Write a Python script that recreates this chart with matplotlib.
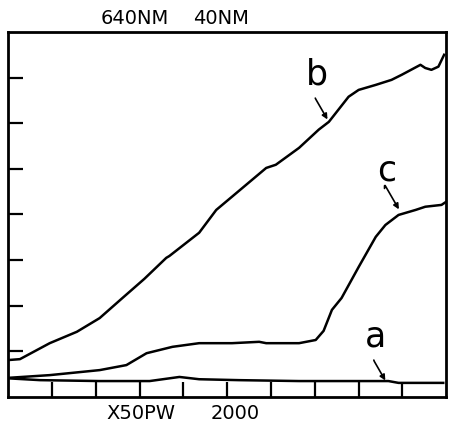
import matplotlib
matplotlib.use("Agg")
import matplotlib.pyplot as plt

# curve b (upper)
b_x = [0.00, 0.27, 0.95, 1.57, 2.09, 2.61, 3.11, 3.61, 3.68, 4.36, 4.75, 5.11,
       5.89, 6.11, 6.64, 7.09, 7.32, 7.77, 8.00, 8.39, 8.75, 8.98, 9.41, 9.52,
       9.66, 9.82, 9.95]
b_y = [0.81, 0.83, 1.18, 1.43, 1.73, 2.17, 2.59, 3.05, 3.09, 3.60, 4.10, 4.39,
       5.02, 5.09, 5.46, 5.86, 6.03, 6.58, 6.73, 6.84, 6.95, 7.06, 7.28, 7.21,
       7.17, 7.24, 7.50]

# curve c (middle)
c_x = [0.00, 0.95, 2.09, 2.70, 3.16, 3.75, 4.36, 5.11, 5.73, 5.89, 6.64, 7.02,
       7.20, 7.39, 7.61, 8.00, 8.39, 8.61, 8.91, 9.30, 9.52, 9.89, 10.0]
c_y = [0.42, 0.48, 0.59, 0.70, 0.96, 1.10, 1.18, 1.18, 1.21, 1.18, 1.18, 1.25,
       1.45, 1.91, 2.17, 2.85, 3.51, 3.77, 3.99, 4.10, 4.17, 4.21, 4.28]

# curve a (baseline)
a_x = [0.00, 0.73, 2.09, 3.23, 3.91, 4.36, 5.27, 6.64, 7.77, 8.68, 8.91, 9.93]
a_y = [0.41, 0.37, 0.35, 0.35, 0.44, 0.39, 0.37, 0.35, 0.35, 0.35, 0.31, 0.31]

labels = ["a", "b", "c"]
label_pos = [(8.39, 1.32), (7.05, 7.06), (8.64, 4.96)]
arrow_tip = [(8.64, 0.31), (7.32, 6.03), (8.95, 4.06)]

fig = plt.figure(figsize=(4.49, 4.26), dpi=100)
ax = fig.add_axes([0.018, 0.068, 0.976, 0.857])

for xs, ys in [(a_x, a_y), (b_x, b_y), (c_x, c_y)]:
    ax.plot(xs, ys, color="black", lw=1.8, solid_joinstyle="round")

for lab, (tx, ty), (px, py) in zip(labels, label_pos, arrow_tip):
    ax.text(tx, ty, lab, fontsize=25, ha="center", va="center")
    ax.annotate("", xy=(px, py), xytext=(tx - 0.05, ty - 0.45),
                arrowprops=dict(arrowstyle="-|>", color="black", lw=1.2,
                                mutation_scale=8,
                                connectionstyle="angle,angleA=-90,angleB=120,rad=2"))

ax.set_xlim(0, 10)
ax.set_ylim(0, 8)
ax.set_xticks(range(1, 10))
ax.set_yticks(range(1, 8))
ax.tick_params(direction="in", length=11, width=1.6, labelbottom=False,
               labelleft=False)
for s in ax.spines.values():
    s.set_linewidth(2)

fig.text(0.223, 0.957, "640NM", fontsize=14, ha="left", va="center")
fig.text(0.43, 0.957, "40NM", fontsize=14, ha="left", va="center")
fig.text(0.238, 0.03, "X50PW", fontsize=14, ha="left", va="center")
fig.text(0.468, 0.03, "2000", fontsize=14, ha="left", va="center")

fig.savefig("out.png", dpi=100)
